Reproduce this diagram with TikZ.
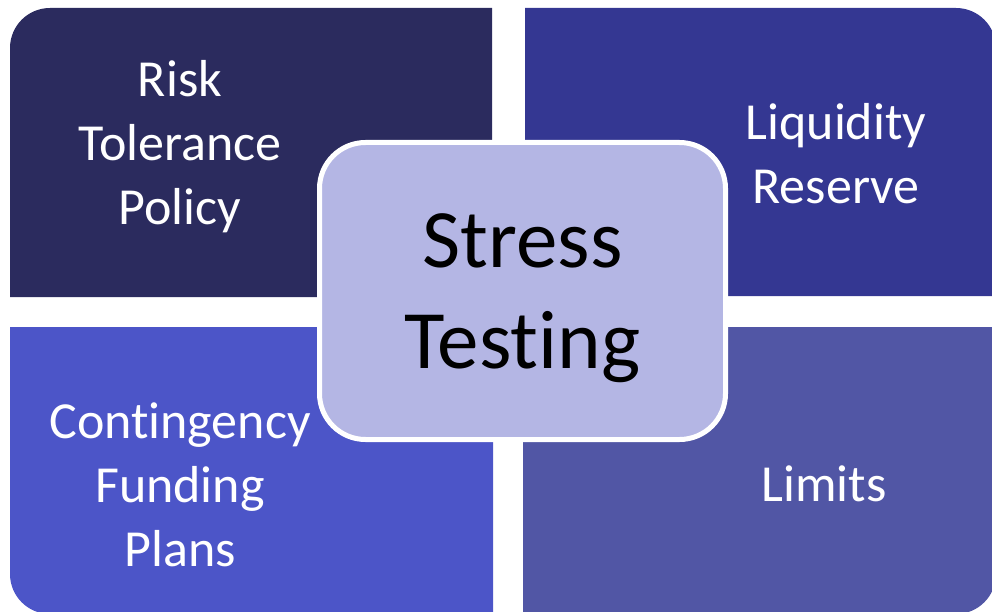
\documentclass[tikz,border=0pt]{standalone}
\usepackage{fontspec}
\setmainfont[Ligatures=NoCommon]{Carlito}
\definecolor{qTL}{HTML}{2B2B5E}
\definecolor{qTR}{HTML}{343792}
\definecolor{qBL}{HTML}{4C55C8}
\definecolor{qBR}{HTML}{5156A5}
\definecolor{hub}{HTML}{B4B6E4}
\begin{document}
\begin{tikzpicture}[x=1pt,y=-1pt,
  quadtext/.style={text=white,align=center,font=\fontsize{52}{64}\selectfont},
  hubbox/.style={draw=white,line width=5pt,fill=hub,rounded corners=46pt,
    minimum width=406pt,minimum height=297pt,inner sep=0pt,
    align=center,font=\fontsize{83}{101}\selectfont}]
\useasboundingbox (0,0) rectangle (992,612);
% four quadrants, each rounded at its outer corner
\fill[qTL] (492,297) -- (10,297) [rounded corners=40pt] -- (10,8) [sharp corners] -- (492,8) -- cycle;
\fill[qTR] (525,8) [rounded corners=40pt] -- (996,8) [sharp corners] -- (996,296) -- (525,296) -- cycle;
\fill[qBL] (10,327) [rounded corners=40pt] -- (10,614) [sharp corners] -- (493,614) -- (493,327) -- cycle;
\fill[qBR] (523,327) -- (996,327) [rounded corners=40pt] -- (996,614) [sharp corners] -- (523,614) -- cycle;
% labels
\node[quadtext] (risk) at (180,147) {Risk\\Tolerance\\Policy};
\node[quadtext] (liq) at (836,154) {Liquidity\\Reserve};
\node[quadtext] (cfp) at (180,485) {Contingency\\Funding\\Plans};
\node[quadtext] (lim) at (824,484) {Limits};
% central hub
\node[hubbox] (stress) at (522.5,291) {};
\node[align=center,font=\fontsize{83}{101}\selectfont] (stresslbl) at (522.5,298) {Stress\\Testing};
\end{tikzpicture}
\end{document}
